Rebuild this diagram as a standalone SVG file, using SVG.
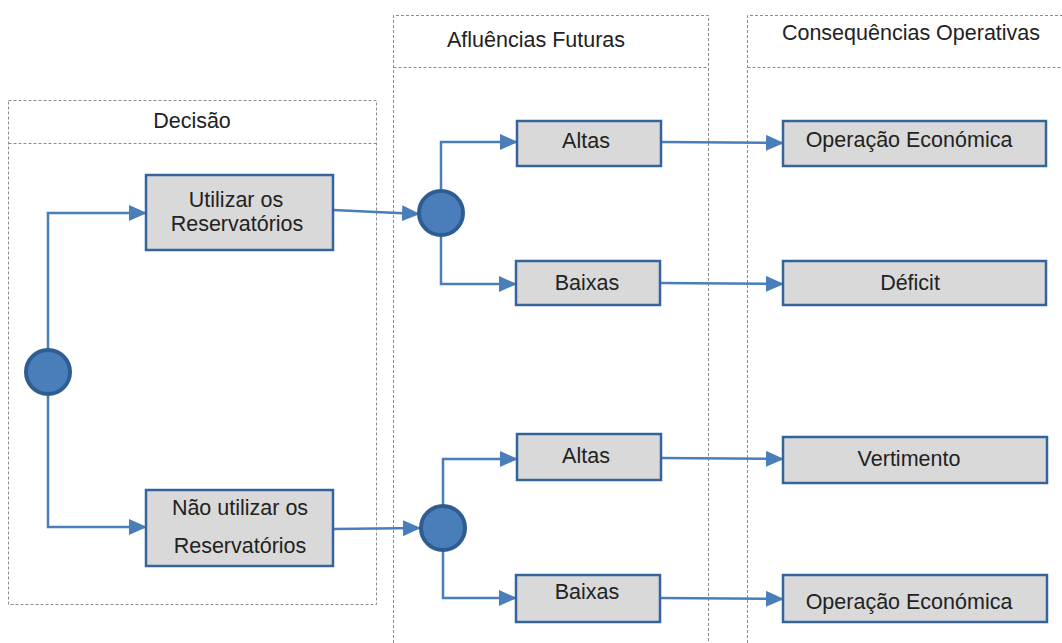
<svg xmlns="http://www.w3.org/2000/svg" width="1062" height="643" viewBox="0 0 1062 643">
  <style>
    .lane { fill: none; stroke: #8c8c8c; stroke-width: 1; stroke-dasharray: 3 2; }
    .hdr { font-family: "Liberation Sans", Arial, sans-serif; font-size: 21.5px; fill: #222; text-anchor: middle; }
    .box { fill: #d9d9d9; stroke: #35649c; stroke-width: 2.5; }
    .lbl { font-family: "Liberation Sans", Arial, sans-serif; font-size: 21.5px; fill: #222; text-anchor: middle; }
    .node-c { fill: #4a7ebb; stroke: #2f5d91; stroke-width: 4; }
    .wire { fill: none; stroke: #4a7ebb; stroke-width: 2.5; marker-end: url(#arr); }
  </style>
  <defs>
    <marker id="arr" markerWidth="18" markerHeight="16" refX="17" refY="8" orient="auto" markerUnits="userSpaceOnUse">
      <path d="M0,0 L18,8 L0,16 Z" fill="#4a7ebb"/>
    </marker>
  </defs>
  <rect width="1062" height="643" fill="#ffffff"/>

  <!-- swimlanes -->
  <g id="lanes">
    <rect class="lane" x="8.5" y="100.5" width="368" height="504"/>
    <line class="lane" x1="8.5" y1="143.5" x2="376.5" y2="143.5"/>
    <text class="hdr" x="192" y="128">Decisão</text>

    <path class="lane" d="M393.5,643 V15.5 H708.5 V643"/>
    <line class="lane" x1="393.5" y1="67.5" x2="708.5" y2="67.5"/>
    <text class="hdr" x="536" y="47">Afluências Futuras</text>

    <path class="lane" d="M747.5,643 V15.5 H1062"/>
    <line class="lane" x1="747.5" y1="67.5" x2="1062" y2="67.5"/>
    <text class="hdr" x="911" y="40">Consequências Operativas</text>
  </g>

  <!-- connectors -->
  <g id="connectors">
    <path class="wire" d="M48,350 V213 H146"/>
    <path class="wire" d="M48,394 V527 H146"/>
    <path class="wire" d="M333,210 L419,214"/>
    <path class="wire" d="M333,529 L420,528"/>
    <path class="wire" d="M441,191 V142 H517"/>
    <path class="wire" d="M441,235 V284 H516"/>
    <path class="wire" d="M443,505 V459 H517"/>
    <path class="wire" d="M443,551 V598 H516"/>
    <path class="wire" d="M661,142 L783,143"/>
    <path class="wire" d="M660,283 L783,284"/>
    <path class="wire" d="M661,458 L783,459"/>
    <path class="wire" d="M660,598 L783,599"/>
  </g>

  <!-- decision nodes -->
  <g id="decision-root"><circle class="node-c" cx="48" cy="372" r="22"/></g>
  <g id="chance-use"><circle class="node-c" cx="441" cy="213" r="22"/></g>
  <g id="chance-nouse"><circle class="node-c" cx="443" cy="528" r="22"/></g>

  <!-- decision options -->
  <g id="opt-use">
    <rect class="box" x="146" y="175" width="187" height="75"/>
    <text class="lbl" x="236" y="207">Utilizar os</text>
    <text class="lbl" x="237" y="231">Reservatórios</text>
  </g>
  <g id="opt-nouse">
    <rect class="box" x="146" y="490" width="187" height="76"/>
    <text class="lbl" x="240" y="515">Não utilizar os</text>
    <text class="lbl" x="240" y="553">Reservatórios</text>
  </g>

  <!-- inflow scenarios -->
  <g id="inflow-high-1">
    <rect class="box" x="517" y="121" width="144" height="45"/>
    <text class="lbl" x="586" y="148">Altas</text>
  </g>
  <g id="inflow-low-1">
    <rect class="box" x="516" y="261" width="144" height="44"/>
    <text class="lbl" x="587" y="290">Baixas</text>
  </g>
  <g id="inflow-high-2">
    <rect class="box" x="517" y="434" width="144" height="46"/>
    <text class="lbl" x="586" y="463">Altas</text>
  </g>
  <g id="inflow-low-2">
    <rect class="box" x="516" y="575" width="144" height="47"/>
    <text class="lbl" x="587" y="599">Baixas</text>
  </g>

  <!-- operating outcomes -->
  <g id="outcome-econ-1">
    <rect class="box" x="783" y="121" width="263" height="45"/>
    <text class="lbl" x="909" y="147">Operação Económica</text>
  </g>
  <g id="outcome-deficit">
    <rect class="box" x="783" y="261" width="263" height="44"/>
    <text class="lbl" x="910" y="290">Déficit</text>
  </g>
  <g id="outcome-spill">
    <rect class="box" x="783" y="437" width="264" height="46"/>
    <text class="lbl" x="909" y="466">Vertimento</text>
  </g>
  <g id="outcome-econ-2">
    <rect class="box" x="783" y="575" width="264" height="47"/>
    <text class="lbl" x="909" y="609">Operação Económica</text>
  </g>
</svg>
